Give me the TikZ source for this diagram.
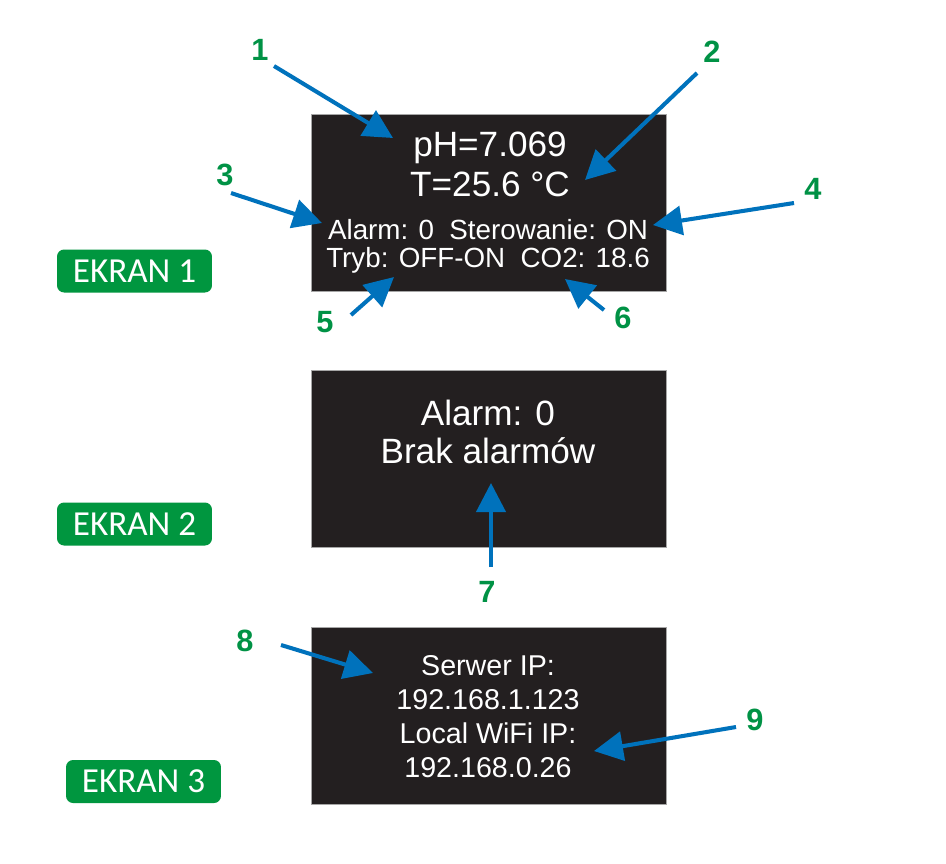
\documentclass[tikz,border=0pt]{standalone}
\usepackage{fontspec}
\setmainfont{Liberation Sans}
\newfontfamily\ekranfont{Carlito}
\usetikzlibrary{positioning, arrows.meta}
\definecolor{oledbg}{HTML}{231F20}
\definecolor{callout}{HTML}{0072BC}
\definecolor{marker}{HTML}{009245}
\definecolor{tag}{HTML}{00963F}

\begin{document}
\begin{tikzpicture}[
  x=0.02cm, y=-0.02cm,
  screen/.style={draw=black!35, line width=0.4pt, fill=oledbg,
    minimum width=7.1cm, minimum height=3.54cm, inner sep=0pt},
  big/.style={text=white, font=\fontsize{20}{24}\selectfont, anchor=base, inner sep=0pt},
  small/.style={text=white, font=\fontsize{15.8}{19}\selectfont, anchor=base, inner sep=0pt},
  ip/.style={text=white, font=\fontsize{16.3}{19}\selectfont, anchor=base, inner sep=0pt},
  num/.style={text=marker, font=\fontsize{17.5}{20}\bfseries\selectfont, inner sep=0pt},
  tagbox/.style={fill=tag, rounded corners=4pt, text=white,
    font=\ekranfont\fontsize{20}{24}\selectfont,
    minimum width=3.1cm, minimum height=0.86cm, inner sep=0pt},
  callarrow/.style={-{Triangle[length=0.58cm, width=0.58cm]}, draw=callout, line width=2.3pt}
]
  \useasboundingbox[fill=white] (0,0) rectangle (946,863);

  % screens
  \node[screen] (scr1) at (488.5,202.5) {};
  \node[screen] (scr2) at (488.5,459) {};
  \node[screen] (scr3) at (488.5,715.5) {};

  % labels on the left
  \node[tagbox] (ekran1) at (134.5,271) {EKRAN 1};
  \node[tagbox] (ekran2) at (134.5,524) {EKRAN 2};
  \node[tagbox] (ekran3) at (143.5,781.5) {EKRAN 3};

  % screen 1
  \node[big] (ph) at (490,156) {pH=7.069};
  \node[big] (temp) at (490,196) {T=25.6 °C};
  \node[small] (alarm) at (488,239) {Alarm: 0\ \ Sterowanie: ON};
  \node[small] (tryb) at (488,267) {Tryb: OFF-ON\ \ CO2: 18.6};

  % screen 2
  \node[big] (alarm2) at (488,425) {Alarm: 0};
  \node[big] (brak) at (488,463) {Brak alarmów};

  % screen 3
  \node[ip] (serwer) at (488,675) {Serwer IP:};
  \node[ip] (serwerip) at (488,709) {192.168.1.123};
  \node[ip] (wifi) at (488,743) {Local WiFi IP:};
  \node[ip] (wifiip) at (488,777) {192.168.0.26};

  % numbers
  \node[num] (n1) at (260,50) {1};
  \node[num] (n2) at (712,52) {2};
  \node[num] (n3) at (225,175) {3};
  \node[num] (n4) at (813,189) {4};
  \node[num] (n5) at (325,322) {5};
  \node[num] (n6) at (623,318) {6};
  \node[num] (n7) at (487,592) {7};
  \node[num] (n8) at (245,641) {8};
  \node[num] (n9) at (755,720) {9};

  % arrow ends
  \coordinate (from1) at (274,66);   \coordinate (to1) at (393,138);
  \coordinate (from2) at (697,73);   \coordinate (to2) at (585,180);
  \coordinate (from3) at (231,193);  \coordinate (to3) at (322,223);
  \coordinate (from4) at (794,203);  \coordinate (to4) at (653,225);
  \coordinate (from5) at (351,315);  \coordinate (to5) at (394,277);
  \coordinate (from6) at (604,310);  \coordinate (to6) at (565,279);
  \coordinate (from7) at (491,567);  \coordinate (to7) at (491,483);
  \coordinate (from8) at (281,645);  \coordinate (to8) at (373,673);
  \coordinate (from9) at (736,727);  \coordinate (to9) at (594,751);

  \draw[callarrow] (from1) -- (to1);
  \draw[callarrow] (from2) -- (to2);
  \draw[callarrow] (from3) -- (to3);
  \draw[callarrow] (from4) -- (to4);
  \draw[callarrow] (from5) -- (to5);
  \draw[callarrow] (from6) -- (to6);
  \draw[callarrow] (from7) -- (to7);
  \draw[callarrow] (from8) -- (to8);
  \draw[callarrow] (from9) -- (to9);
\end{tikzpicture}
\end{document}
